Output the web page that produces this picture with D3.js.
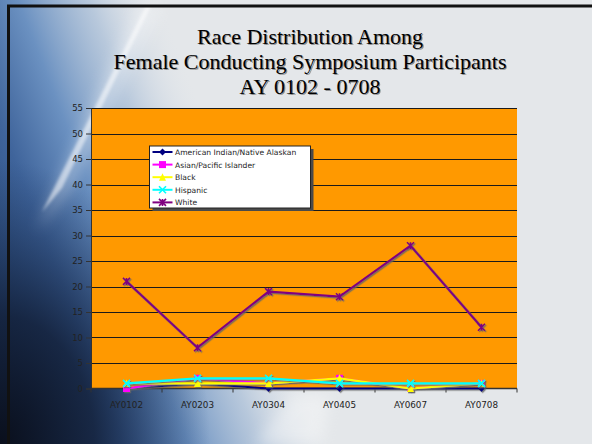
<!DOCTYPE html>
<html>
<head>
<meta charset="utf-8">
<script src="https://cdn.jsdelivr.net/npm/d3@7"></script>
<style>
  html, body { margin: 0; padding: 0; background: #e6e8ea; }
  svg { display: block; }
</style>
</head>
<body>
<svg id="chart" width="592" height="444"></svg>
<script>
// Academic years on the category axis
const years = ["AY0102", "AY0203", "AY0304", "AY0405", "AY0607", "AY0708"];

// Participant counts per race, one array per series
const americanIndian = [0, 1, 0, 0, 0, 0];
const asianPacific   = [0, 2, 1, 2, 0, 1];
const black          = [1, 1, 1, 2, 0, 1];
const hispanic       = [1, 2, 2, 1, 1, 1];
const white          = [21, 8, 19, 18, 28, 12];

const seriesNames = ["American Indian/Native Alaskan", "Asian/Pacific Islander", "Black", "Hispanic", "White"];
const yTicks = [0, 5, 10, 15, 20, 25, 30, 35, 40, 45, 50, 55];
const titleLines = ["Race Distribution Among", "Female Conducting Symposium Participants", "AY 0102 - 0708"];

const series = [
  { name: seriesNames[0], values: americanIndian, color: "#000080", marker: "diamond" },
  { name: seriesNames[1], values: asianPacific,   color: "#ff00ff", marker: "square" },
  { name: seriesNames[2], values: black,          color: "#ffff00", marker: "triangle" },
  { name: seriesNames[3], values: hispanic,       color: "#00ffff", marker: "cross" },
  { name: seriesNames[4], values: white,          color: "#800080", marker: "star" }
];

const svg = d3.select("#chart");
const W = 592, H = 444;
const defs = svg.append("defs");

// ---- slide background ----
// slanted blue wash: strong on the left, fading out toward the middle
const blueGrad = defs.append("linearGradient").attr("id", "blueGrad")
  .attr("gradientUnits", "userSpaceOnUse")
  .attr("x1", -40).attr("y1", 250).attr("x2", 218).attr("y2", 151);
[[0, "#24426f", 1], [0.3, "#3f649b", 1], [0.52, "#6b91c1", 1], [0.76, "#a9bed7", 0.75], [1, "#dfe4ea", 0]]
  .forEach(([o, c, a]) => blueGrad.append("stop").attr("offset", o).attr("stop-color", c).attr("stop-opacity", a));

// dark corner at the bottom left
const darkGrad = defs.append("radialGradient").attr("id", "darkGrad")
  .attr("gradientUnits", "userSpaceOnUse")
  .attr("cx", 0).attr("cy", 444).attr("r", 210)
  .attr("gradientTransform", "translate(0,444) scale(1,1.35) translate(0,-444)");
[[0, "#0a0f1c", 1], [0.45, "#121f38", 0.85], [1, "#1f3a66", 0]]
  .forEach(([o, c, a]) => darkGrad.append("stop").attr("offset", o).attr("stop-color", c).attr("stop-opacity", a));

const blur = defs.append("filter").attr("id", "soft").attr("x", "-50%").attr("y", "-50%").attr("width", "200%").attr("height", "200%");
blur.append("feGaussianBlur").attr("stdDeviation", 7);
const blurThin = defs.append("filter").attr("id", "softThin").attr("x", "-50%").attr("y", "-50%").attr("width", "200%").attr("height", "200%");
blurThin.append("feGaussianBlur").attr("stdDeviation", 1.8);

const bg = svg.append("g");
bg.append("rect").attr("width", W).attr("height", H).attr("fill", "#e4e7ea");
bg.append("rect").attr("width", W).attr("height", H).attr("fill", "url(#blueGrad)");
bg.append("rect").attr("width", W).attr("height", H).attr("fill", "url(#darkGrad)");
// light streaks
bg.append("path").attr("d", "M138,6 L162,6 L70,190 L36,232 Z")
  .attr("fill", "#ffffff").attr("opacity", 0.3).attr("filter", "url(#soft)");
bg.append("path").attr("d", "M146,6 L151,6 L62,188 L42,212 Z")
  .attr("fill", "#ffffff").attr("opacity", 0.55).attr("filter", "url(#softThin)");
bg.append("path").attr("d", "M255,444 L292,395 L330,395 L322,444 Z")
  .attr("fill", "#ffffff").attr("opacity", 0.35).attr("filter", "url(#soft)");
// slide frame
bg.append("rect").attr("x", 8.5).attr("y", 6).attr("width", W + 10).attr("height", H + 10)
  .attr("fill", "none").attr("stroke", "#111").attr("stroke-width", 3);

// ---- title ----
const titleG = svg.append("g").attr("font-family", "'Liberation Serif', 'Times New Roman', serif")
  .attr("font-size", 22).attr("text-anchor", "middle");
const titleY = [44, 69, 94];
titleLines.forEach((t, i) => {
  titleG.append("text").attr("x", 311.2).attr("y", titleY[i] + 1.2).attr("fill", "#5a5a5a").attr("opacity", 0.6).text(t);
  titleG.append("text").attr("x", 310).attr("y", titleY[i]).attr("fill", "#000").text(t);
});

// ---- plot ----
const plot = { left: 91, right: 517, top: 108, bottom: 388.5 };
const x = d3.scaleBand().domain(years).range([plot.left, plot.right]);
const y = d3.scaleLinear().domain([0, 55]).range([plot.bottom, plot.top]);

svg.append("rect").attr("x", plot.left).attr("y", plot.top)
  .attr("width", plot.right - plot.left).attr("height", plot.bottom - plot.top).attr("fill", "#ff9900");

// horizontal gridlines
svg.append("g").selectAll("line").data(yTicks.filter(v => v > 0)).join("line")
  .attr("x1", plot.left).attr("x2", plot.right)
  .attr("y1", d => Math.round(y(d)) + 0.5).attr("y2", d => Math.round(y(d)) + 0.5)
  .attr("stroke", "#1a1a1a").attr("stroke-width", 1.2);

// y axis
const yAxis = svg.append("g").attr("transform", `translate(${plot.left},0)`)
  .call(d3.axisLeft(y).tickValues(yTicks).tickSize(5).tickPadding(3));
yAxis.select(".domain").attr("stroke", "#333");
yAxis.selectAll(".tick line").attr("stroke", "#333");
yAxis.selectAll("text").attr("font-family", "'DejaVu Sans', Verdana, sans-serif").attr("font-size", 8.5).attr("fill", "#222");

// x axis with ticks between categories
const xAxisG = svg.append("g").attr("transform", `translate(0,${plot.bottom})`);
xAxisG.append("line").attr("x1", plot.left).attr("x2", plot.right).attr("y1", 0).attr("y2", 0)
  .attr("stroke", "#333").attr("stroke-width", 1.5);
const boundaries = years.map(d => x(d)).concat([x(years[years.length - 1]) + x.bandwidth()]);
xAxisG.selectAll("line.tk").data(boundaries).join("line").attr("class", "tk")
  .attr("x1", d => d).attr("x2", d => d).attr("y1", 0).attr("y2", 4).attr("stroke", "#333");
xAxisG.selectAll("text").data(years).join("text")
  .attr("x", d => x(d) + x.bandwidth() / 2).attr("y", 19)
  .attr("text-anchor", "middle").attr("font-family", "'DejaVu Sans', Verdana, sans-serif")
  .attr("font-size", 8.8).attr("fill", "#222").text(d => d);

// ---- series ----
const shadow = defs.append("filter").attr("id", "lineShadow").attr("x", "-10%").attr("y", "-10%").attr("width", "120%").attr("height", "120%");
shadow.append("feDropShadow").attr("dx", 1.2).attr("dy", 1.2).attr("stdDeviation", 0.4)
  .attr("flood-color", "#666").attr("flood-opacity", 0.8);

const cx = d => x(d) + x.bandwidth() / 2;
const line = d3.line().x(d => cx(d.year)).y(d => y(d.value));

function drawMarker(g, type, color, px, py) {
  const s = 3.5;
  if (type === "diamond") {
    g.append("path").attr("d", `M${px},${py - s} L${px + s},${py} L${px},${py + s} L${px - s},${py} Z`).attr("fill", color);
  } else if (type === "square") {
    g.append("rect").attr("x", px - s).attr("y", py - s).attr("width", 2 * s).attr("height", 2 * s).attr("fill", color);
  } else if (type === "triangle") {
    g.append("path").attr("d", `M${px},${py - s - 0.5} L${px + s},${py + s} L${px - s},${py + s} Z`).attr("fill", color);
  } else if (type === "cross") {
    g.append("path").attr("d", `M${px - s},${py - s} L${px + s},${py + s} M${px + s},${py - s} L${px - s},${py + s}`)
      .attr("stroke", color).attr("stroke-width", 1.6);
  } else if (type === "star") {
    g.append("path").attr("d", `M${px - s},${py - s} L${px + s},${py + s} M${px + s},${py - s} L${px - s},${py + s} M${px},${py - s} L${px},${py + s}`)
      .attr("stroke", color).attr("stroke-width", 1.6);
  }
}

series.forEach(s => {
  const pts = s.values.map((v, i) => ({ year: years[i], value: v }));
  const g = svg.append("g").attr("filter", "url(#lineShadow)");
  g.append("path").datum(pts).attr("d", line).attr("fill", "none")
    .attr("stroke", s.color).attr("stroke-width", 2.2).attr("stroke-linejoin", "round");
  pts.forEach(p => drawMarker(g, s.marker, s.color, cx(p.year), y(p.value)));
});

// ---- legend ----
const lg = { x: 149.5, y: 146, w: 161, h: 62 };
svg.append("rect").attr("x", lg.x + 3).attr("y", lg.y + 3).attr("width", lg.w).attr("height", lg.h).attr("fill", "#4a4a4a");
svg.append("rect").attr("x", lg.x).attr("y", lg.y).attr("width", lg.w).attr("height", lg.h)
  .attr("fill", "#fff").attr("stroke", "#222").attr("stroke-width", 1);
series.forEach((s, i) => {
  const ry = lg.y + 6 + i * 12.6;
  const g = svg.append("g");
  g.append("line").attr("x1", lg.x + 3).attr("x2", lg.x + 23).attr("y1", ry).attr("y2", ry)
    .attr("stroke", s.color).attr("stroke-width", 2);
  drawMarker(g, s.marker, s.color, lg.x + 13, ry);
  g.append("text").attr("x", lg.x + 25.5).attr("y", ry + 3)
    .attr("font-family", "'DejaVu Sans', Verdana, sans-serif").attr("font-size", 7.6)
    .attr("fill", "#222").text(s.name);
});
</script>
</body>
</html>
